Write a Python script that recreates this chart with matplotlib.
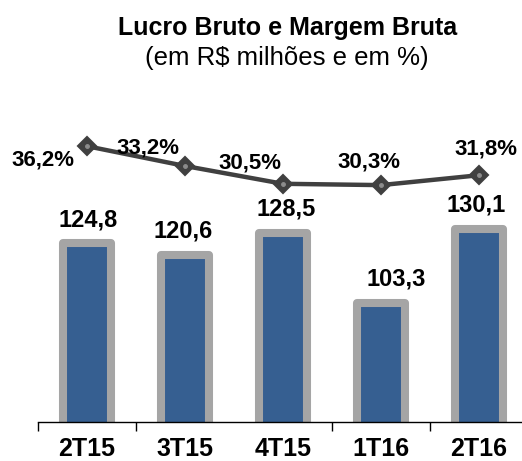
import matplotlib.pyplot as plt
import numpy as np

plt.rcParams['font.family'] = ['Liberation Sans', 'DejaVu Sans']

quarters = ['2T15', '3T15', '4T15', '1T16', '2T16']
lucro_bruto = [124.8, 120.6, 128.5, 103.3, 130.1]
margem_bruta = [36.2, 33.2, 30.5, 30.3, 31.8]
lucro_labels = ['124,8', '120,6', '128,5', '103,3', '130,1']
margem_labels = ['36,2%', '33,2%', '30,5%', '30,3%', '31,8%']

# label offsets in points (dx, dy) relative to each marker
margem_offsets = [(-32, -10), (-27, 13), (-24, 15), (-9, 17), (5, 19)]
lucro_dx = [1, -1, 2, 11, -2]

fig = plt.figure(figsize=(5.22, 4.61), dpi=100)
ax = fig.add_axes([0.0728, 0.0846, 0.9387, 0.6985])

x = np.arange(len(quarters))
ax.bar(x, lucro_bruto, width=0.49, color='#365F91', edgecolor='#A5A5A5',
       linewidth=5.8, joinstyle='round', zorder=2)

ax.set_xlim(-0.5, 4.5)
ax.set_ylim(60, 176.7)
ax.set_yticks([])
for s in ['top', 'right', 'left']:
    ax.spines[s].set_visible(False)
ax.spines['bottom'].set_linewidth(1.0)
ax.spines['bottom'].set_color('black')

# tick marks between categories, labels at centers
ax.set_xticks([-0.5, 0.5, 2.5, 3.5])
ax.set_xticklabels([])
ax.tick_params(axis='x', which='major', length=6.5, width=1.0, direction='out', color='black')
ax.set_xticks(x, minor=True)
ax.set_xticklabels(quarters, minor=True, fontsize=18, fontweight='bold')
ax.tick_params(axis='x', which='minor', length=0, pad=10.5)

for i, v in enumerate(lucro_bruto):
    ax.annotate(lucro_labels[i], (x[i], v), xytext=(lucro_dx[i], 17),
                textcoords='offset points', ha='center', va='center',
                fontsize=17, fontweight='bold', color='black')

ax2 = ax.twinx()
ax2.set_ylim(-5.6, 43.2)
ax2.set_yticks([])
for s in ax2.spines.values():
    s.set_visible(False)
ax2.plot(x, margem_bruta, color='#404040', linewidth=3.2, marker='D',
         markersize=9.5, markerfacecolor='#404040', markeredgecolor='#404040',
         markeredgewidth=1.5, zorder=3)
ax2.plot(x, margem_bruta, linestyle='none', marker='o', markersize=2.5,
         color='#8C8C8C', zorder=4)

for i, v in enumerate(margem_bruta):
    ax2.annotate(margem_labels[i], (x[i], v), xytext=margem_offsets[i],
                 textcoords='offset points', ha='center', va='center',
                 fontsize=16, fontweight='bold', color='black')

fig.text(0.55, 0.940, 'Lucro Bruto e Margem Bruta', ha='center', va='center',
         fontsize=18, fontweight='bold')
fig.text(0.55, 0.874, '(em R$ milhões e em %)', ha='center', va='center',
         fontsize=18.5)

fig.savefig('out.png', dpi=100)
